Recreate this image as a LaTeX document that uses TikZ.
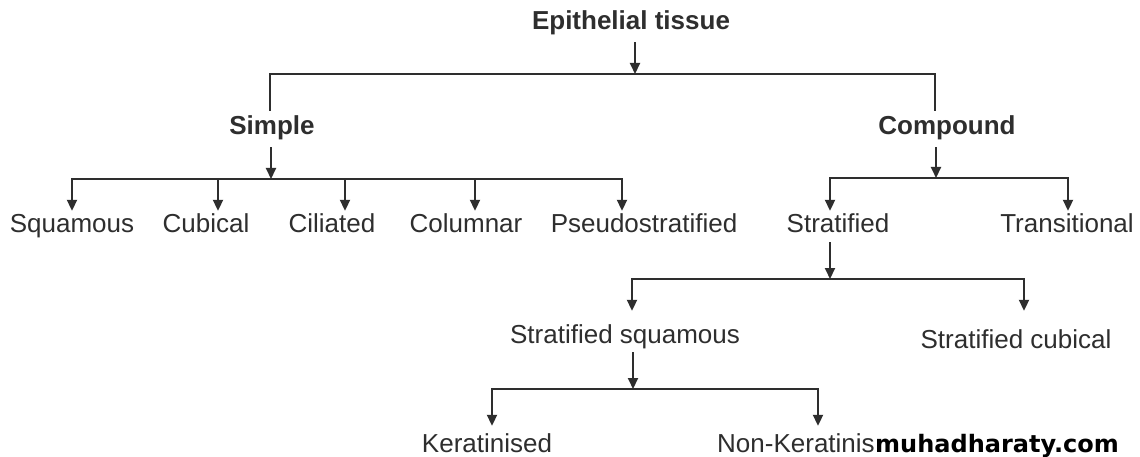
\documentclass[tikz,border=0pt]{standalone}
\usepackage{fontspec}
\setmainfont{Liberation Sans}
\newfontfamily\wmfont{DejaVu Sans}
\usetikzlibrary{arrows.meta}
\definecolor{ink}{HTML}{2E2E2E}
\begin{document}
\begin{tikzpicture}[x=1pt,y=-1pt,
  lbl/.style={anchor=base,inner xsep=0pt,inner ysep=3pt,text height=19pt,text depth=6pt,font=\fontsize{26}{30}\selectfont,text=ink},
  hdr/.style={lbl,font=\fontsize{26}{30}\selectfont\bfseries,inner ysep=6pt},
  ln/.style={draw=ink,line width=2pt,line cap=rect,line join=miter},
  arr/.style={draw=ink,line width=2pt,-{Triangle[width=10pt,length=11pt]}}]
\useasboundingbox (0,0) rectangle (1140,457);
\fill[white] (0,0) rectangle (1140,457);

% nodes
\node[hdr] (epi) at (631,30) {Epithelial tissue};
\node[hdr] (simple) at (272,135) {Simple};
\node[hdr] (comp) at (947,135) {Compound};
\node[lbl] (squ) at (72,233) {Squamous};
\node[lbl] (cub) at (206,233) {Cubical};
\node[lbl] (cil) at (332,233) {Ciliated};
\node[lbl] (col) at (466,233) {Columnar};
\node[lbl] (pse) at (644,233) {Pseudostratified};
\node[lbl] (str) at (838,233) {Stratified};
\node[lbl] (tra) at (1067,233) {Transitional};
\node[lbl] (ssq) at (625,343) {Stratified squamous};
\node[lbl] (scu) at (1016,348) {Stratified cubical};
\node[lbl] (ker) at (487,452) {Keratinised};
\node[lbl,anchor=base west] (nker) at (717,452) {Non-Keratinised};

% junctions
\coordinate (j0) at (635,74);
\coordinate (tL) at (270,74);
\coordinate (tR) at (935,74);
\coordinate (jS) at (271,179);
\coordinate (s1) at (72,179);
\coordinate (s2) at (218,179);
\coordinate (s3) at (345,179);
\coordinate (s4) at (475,179);
\coordinate (s5) at (622,179);
\coordinate (jC) at (936,178);
\coordinate (c1) at (830,178);
\coordinate (c2) at (1068,178);
\coordinate (jT) at (830,279);
\coordinate (t1) at (632,279);
\coordinate (t2) at (1024,279);
\coordinate (jK) at (633,389);
\coordinate (k1) at (492,389);
\coordinate (k2) at (818,389);

% connectors
\draw[arr] (epi.south -| j0) -- (j0);
\draw[ln] (tL |- simple.north) -- (tL) -- (tR) -- (tR |- comp.north);

\draw[arr] (simple.south -| jS) -- (jS);
\draw[ln] (s1) -- (s5);
\draw[arr] (s1) -- (s1 |- squ.north);
\draw[arr] (s2) -- (s2 |- cub.north);
\draw[arr] (s3) -- (s3 |- cil.north);
\draw[arr] (s4) -- (s4 |- col.north);
\draw[arr] (s5) -- (s5 |- pse.north);

\draw[arr] (comp.south -| jC) -- (jC);
\draw[ln] (c1) -- (c2);
\draw[arr] (c1) -- (c1 |- str.north);
\draw[arr] (c2) -- (c2 |- tra.north);

\draw[arr] (str.south -| jT) -- (jT);
\draw[ln] (t1) -- (t2);
\draw[arr,shorten >=10pt] (t1) -- (t1 |- ssq.north);
\draw[arr,shorten >=15pt] (t2) -- (t2 |- scu.north);

\draw[arr] (ssq.south -| jK) -- (jK);
\draw[ln] (k1) -- (k2);
\draw[arr,shorten >=4pt] (k1) -- (k1 |- ker.north);
\draw[arr,shorten >=4pt] (k2) -- (k2 |- nker.north);

% watermark
\node[anchor=base west,inner sep=1pt,fill=white,font=\wmfont\bfseries\fontsize{24}{28}\selectfont,text=black] (wm) at (874,452) {muhadharaty.com};
\end{tikzpicture}
\end{document}
